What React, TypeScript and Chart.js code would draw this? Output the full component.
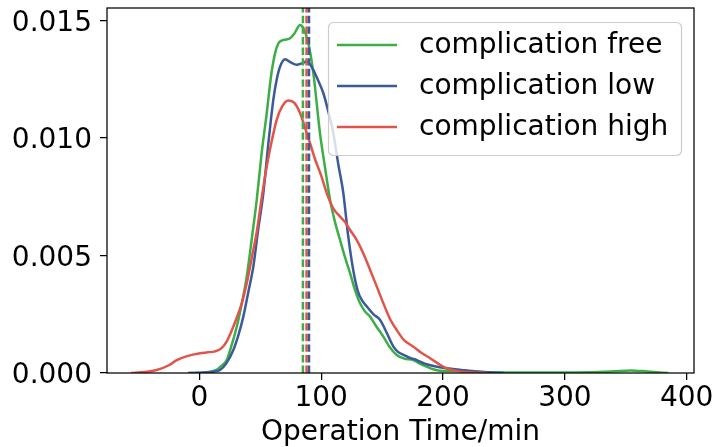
import React, { useEffect, useRef } from 'react';
import { Chart, registerables } from 'chart.js';

Chart.register(...registerables);

// ---- data ----
const seriesLabels = ['complication free', 'complication low', 'complication high'];
const seriesColors = ['#3cae45', '#3b5a98', '#e2544a'];

const freeX = [-9, 0, 8, 14, 18, 22.5, 26, 30.7, 35, 38.9, 43, 47.1, 51, 55.3, 59, 62.2, 65, 67.6, 71, 74.5, 78, 82.7, 85.4, 89.5, 93.6, 99, 103, 107.3, 111, 115.5, 119.7, 123.7, 128, 131.9, 136, 140.1, 145, 151, 156, 162, 168, 175.7, 181, 186.7, 192, 197.6, 210, 225, 240, 260, 290, 320, 340, 354, 368, 385];
const freeY = [0, 0.00001, 0.00004, 0.00013, 0.0003, 0.00055, 0.0011, 0.00197, 0.003, 0.0041, 0.0057, 0.00737, 0.0093, 0.01106, 0.0127, 0.01362, 0.01405, 0.01415, 0.0142, 0.01425, 0.01445, 0.01482, 0.01468, 0.01404, 0.01276, 0.01021, 0.0088, 0.00737, 0.0065, 0.00566, 0.0049, 0.00425, 0.0035, 0.00297, 0.00262, 0.0024, 0.002, 0.00155, 0.00112, 0.00077, 0.00062, 0.00055, 0.0004, 0.00027, 0.00016, 0.0001, 0.00008, 0.00006, 0.00003, 0.00002, 0.00002, 0.00003, 0.00007, 0.00011, 0.00006, 0];

const lowX = [-9, 5, 12, 17, 22, 27.9, 32, 36.1, 40, 44.3, 48, 52.5, 56.5, 60.7, 63.5, 66.3, 70.4, 75, 80, 84, 88.2, 93.6, 97.5, 101.8, 106, 110, 114, 118.2, 122, 126.4, 130, 133.3, 138, 143, 148.4, 153, 159.3, 163, 167.6, 173, 178.5, 185, 192.2, 203, 215, 228, 240, 250];
const lowY = [0, 0.00002, 0.00006, 0.00013, 0.0004, 0.00098, 0.0016, 0.0024, 0.0034, 0.00453, 0.006, 0.00765, 0.0097, 0.01163, 0.0125, 0.01305, 0.01336, 0.01322, 0.01312, 0.01318, 0.01326, 0.0129, 0.01245, 0.01191, 0.0111, 0.01021, 0.0089, 0.00765, 0.0059, 0.00435, 0.0035, 0.00311, 0.0028, 0.0025, 0.00226, 0.0018, 0.00112, 0.0009, 0.00077, 0.00064, 0.00055, 0.0004, 0.0003, 0.0002, 0.00013, 0.00006, 0.00002, 0];

const highX = [-56, -45, -35, -25, -18.6, -10, 0.6, 7, 12.9, 18, 22.5, 26.5, 30.7, 35, 38.9, 43, 47.1, 51, 55.3, 59.5, 63.5, 68, 73.1, 78, 82.7, 87, 90.9, 95, 100, 104.6, 110, 115.5, 120, 123.7, 129.2, 134.5, 140.1, 145.5, 151, 156.5, 162, 168, 175.7, 182.5, 189.4, 196, 203, 210, 219.5, 236];
const highY = [0, 0.00004, 0.00013, 0.00033, 0.00055, 0.00072, 0.00084, 0.00088, 0.00092, 0.00105, 0.00135, 0.0018, 0.00235, 0.003, 0.00382, 0.0049, 0.006, 0.0074, 0.00879, 0.0099, 0.01078, 0.01135, 0.0116, 0.0115, 0.01106, 0.0104, 0.00978, 0.0091, 0.0084, 0.00765, 0.007, 0.00666, 0.0064, 0.00609, 0.00566, 0.0051, 0.0044, 0.0037, 0.00297, 0.0023, 0.00183, 0.0014, 0.00112, 0.00085, 0.00063, 0.0004, 0.0002, 0.0001, 0.00003, 0];

const meanValues = [85, 90, 88];

const xTicks = [0, 100, 200, 300, 400];
const yTicks = [0, 0.005, 0.01, 0.015];
const xMin = -75.8;
const xMax = 406;
const yMax = 0.01554;
const xLabel = 'Operation Time/min';

const FONT_FAMILY = '"DejaVu Sans", sans-serif';
const FONT_SIZE = 28;

function toPoints(xs: number[], ys: number[]) {
  return xs.map((x, i) => ({ x, y: ys[i] }));
}

const framePlugin = {
  id: 'frame',
  afterDraw(chart: any) {
    const { ctx, chartArea } = chart;
    ctx.save();
    ctx.strokeStyle = '#000';
    ctx.lineWidth = 1.25;
    ctx.strokeRect(chartArea.left, chartArea.top, chartArea.right - chartArea.left, chartArea.bottom - chartArea.top);
    ctx.restore();
  },
};

const legendPlugin = {
  id: 'boxLegend',
  afterDraw(chart: any) {
    const { ctx, chartArea } = chart;
    const w = 353;
    const h = 133;
    const x0 = chartArea.right - 13 - w;
    const y0 = chartArea.top + 14;
    ctx.save();
    ctx.beginPath();
    (ctx as any).roundRect(x0 + 0.5, y0 + 0.5, w, h, 5);
    ctx.fillStyle = 'rgba(255,255,255,0.8)';
    ctx.fill();
    ctx.strokeStyle = '#cccccc';
    ctx.lineWidth = 1.2;
    ctx.stroke();
    ctx.font = `${FONT_SIZE}px ${FONT_FAMILY}`;
    ctx.textBaseline = 'middle';
    ctx.textAlign = 'left';
    seriesLabels.forEach((label, i) => {
      const y = y0 + 23 + i * 41;
      ctx.beginPath();
      ctx.moveTo(x0 + 9, y);
      ctx.lineTo(x0 + 69, y);
      ctx.strokeStyle = seriesColors[i];
      ctx.lineWidth = 2.5;
      ctx.stroke();
      ctx.fillStyle = '#000';
      ctx.fillText(label, x0 + 91, y + 1);
    });
    ctx.restore();
  },
};

export default function App() {
  const canvasRef = useRef<HTMLCanvasElement | null>(null);

  useEffect(() => {
    if (!canvasRef.current) return;
    const curveData = [toPoints(freeX, freeY), toPoints(lowX, lowY), toPoints(highX, highY)];
    const curveOrder = [5, 4, 3];
    const meanOrder = [2, 0, 1];

    const datasets: any[] = [];
    curveData.forEach((d, i) => {
      datasets.push({
        label: seriesLabels[i],
        data: d,
        borderColor: seriesColors[i],
        borderWidth: 2.5,
        pointRadius: 0,
        fill: false,
        cubicInterpolationMode: 'monotone',
        order: curveOrder[i],
      });
    });
    meanValues.forEach((m, i) => {
      datasets.push({
        label: seriesLabels[i] + ' mean',
        data: [{ x: m, y: 0 }, { x: m, y: yMax }],
        borderColor: seriesColors[i],
        borderWidth: 2.5,
        borderDash: [7.4, 3.2],
        pointRadius: 0,
        fill: false,
        order: meanOrder[i],
      });
    });

    const tickFont = { family: FONT_FAMILY, size: FONT_SIZE, lineHeight: 1 };

    const chart = new Chart(canvasRef.current, {
      type: 'line',
      data: { datasets },
      plugins: [framePlugin, legendPlugin],
      options: {
        animation: false,
        responsive: false,
        maintainAspectRatio: false,
        layout: { padding: { left: 0, right: 20, top: 8, bottom: 0 } },
        plugins: { legend: { display: false }, tooltip: { enabled: false } },
        elements: { point: { radius: 0 } },
        scales: {
          x: {
            type: 'linear',
            min: xMin,
            max: xMax,
            afterBuildTicks: (s: any) => {
              s.ticks = xTicks.map((v) => ({ value: v }));
            },
            afterFit: (s: any) => {
              s.height = 74;
              s.paddingLeft = 0;
              s.paddingRight = 0;
            },
            grid: { display: true, drawOnChartArea: false, drawTicks: true, tickLength: 7, color: '#000', lineWidth: 1.25 },
            border: { display: false },
            ticks: {
              color: '#000',
              font: tickFont,
              padding: 5,
              maxRotation: 0,
              autoSkip: false,
              callback: (v: any) => String(v),
            },
            title: { display: true, text: xLabel, color: '#000', font: tickFont, padding: 0 },
          },
          y: {
            type: 'linear',
            min: 0,
            max: yMax,
            afterBuildTicks: (s: any) => {
              s.ticks = yTicks.map((v) => ({ value: v }));
            },
            afterFit: (s: any) => {
              s.width = 107;
              s.paddingTop = 0;
              s.paddingBottom = 0;
            },
            grid: { display: true, drawOnChartArea: false, drawTicks: true, tickLength: 7, color: '#000', lineWidth: 1.25 },
            border: { display: false },
            ticks: {
              color: '#000',
              font: tickFont,
              padding: 8,
              labelOffset: 3,
              autoSkip: false,
              callback: (v: any) => Number(v).toFixed(3),
            },
          },
        },
      } as any,
    });
    return () => chart.destroy();
  }, []);

  return (
    <div style={{ position: 'fixed', left: 0, top: 0, width: 714, height: 447, background: '#fff' }}>
      <canvas ref={canvasRef} width={714} height={447} style={{ display: 'block' }} />
    </div>
  );
}
